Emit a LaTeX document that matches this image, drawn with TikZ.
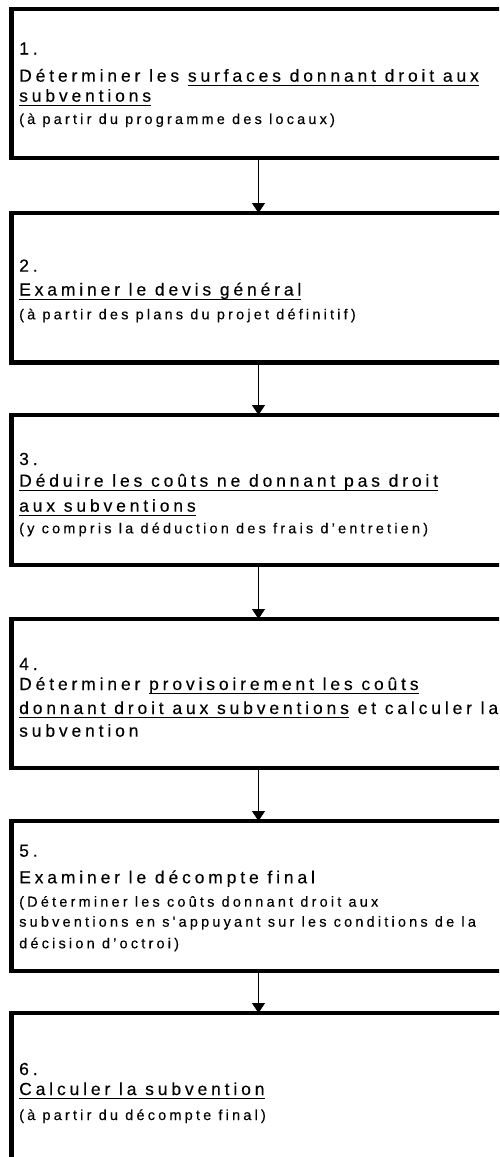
\documentclass[tikz,border=0pt]{standalone}
\usepackage{fontspec}
\setmainfont{Liberation Sans}
\newfontfamily\stepfont[LetterSpace=22,FakeBold=0.2]{Liberation Sans}
\usetikzlibrary{arrows.meta}
% underlined run of text with a thin rule under the baseline
\newcommand\ulseg[1]{\setbox0=\hbox{#1}\rlap{\rule[-4pt]{\wd0}{0.9pt}}\box0\relax}
\begin{document}
\begin{tikzpicture}[x=1pt,y=-1pt,
  stepbox/.style={draw, line width=4.5pt, inner sep=0pt, outer sep=0pt,
    anchor=north west, minimum width=508.5pt},
  lead/.style={anchor=base west, inner sep=0pt,
    font=\stepfont\fontsize{17.5}{20}\selectfont},
  note/.style={anchor=base west, inner sep=0pt,
    font=\stepfont\fontsize{14.5}{17}\selectfont},
  flow/.style={line width=0.8pt, -{Triangle[width=13pt,length=10pt]}}]
\useasboundingbox (0,0) rectangle (499,1157);
\clip (0,0) rectangle (499,1157);

% the six steps
\node[stepbox, minimum height=149pt]   (b1) at (11.5,9)    {};
\node[stepbox, minimum height=149.5pt] (b2) at (11.5,213)  {};
\node[stepbox, minimum height=150pt]   (b3) at (11.5,415)  {};
\node[stepbox, minimum height=149pt]   (b4) at (11.5,619)  {};
\node[stepbox, minimum height=150pt]   (b5) at (11.5,821)  {};
\node[stepbox, minimum height=200pt]   (b6) at (11.5,1013) {};

% connectors
\coordinate (ax) at (258.5,0);
\draw[flow] (b1.south -| ax) -- (b2.north -| ax);
\draw[flow] (b2.south -| ax) -- (b3.north -| ax);
\draw[flow] (b3.south -| ax) -- (b4.north -| ax);
\draw[flow] (b4.south -| ax) -- (b5.north -| ax);
\draw[flow] (b5.south -| ax) -- (b6.north -| ax);

% step 1
\node[lead] (t1a) at (19,54.5)  {1.};
\node[lead] (t1b) at (19,81.7)  {Déterminer les \ulseg{surfaces donnant droit aux}};
\node[lead] (t1c) at (19,101.7) {\ulseg{subventions}};
\node[note] (t1d) at (19,124)   {(à partir du programme des locaux)};

% step 2
\node[lead] (t2a) at (19,271.7) {2.};
\node[lead] (t2b) at (19,295.5) {\ulseg{Examiner le devis général}};
\node[note] (t2c) at (19,319.3) {(à partir des plans du projet définitif)};

% step 3
\node[lead] (t3a) at (19,465)   {3.};
\node[lead] (t3b) at (19,486.7) {\ulseg{Déduire les coûts ne donnant pas droit}};
\node[lead] (t3c) at (19,511.7) {\ulseg{aux subventions}};
\node[note] (t3d) at (19,533.3) {(y compris la déduction des frais d’entretien)};

% step 4
\node[lead] (t4a) at (19,670)   {4.};
\node[lead] (t4b) at (19,690)   {Déterminer \ulseg{provisoirement les coûts}};
\node[lead] (t4c) at (19,714)   {\ulseg{donnant droit aux subventions} et calculer la};
\node[lead] (t4d) at (19,736.7) {subvention};

% step 5
\node[lead] (t5a) at (19,856.7) {5.};
\node[lead] (t5b) at (19,883.3) {Examiner le décompte final};
\node[note] (t5c) at (19,906.7) {(Déterminer les coûts donnant droit aux};
\node[note] (t5d) at (19,926.7) {subventions en s'appuyant sur les conditions de la};
\node[note] (t5e) at (19,948.3) {décision d’octroi)};

% step 6
\node[lead] (t6a) at (19,1075)  {6.};
\node[lead] (t6b) at (19,1095)  {\ulseg{Calculer la subvention}};
\node[note] (t6c) at (19,1120)  {(à partir du décompte final)};
\end{tikzpicture}
\end{document}
